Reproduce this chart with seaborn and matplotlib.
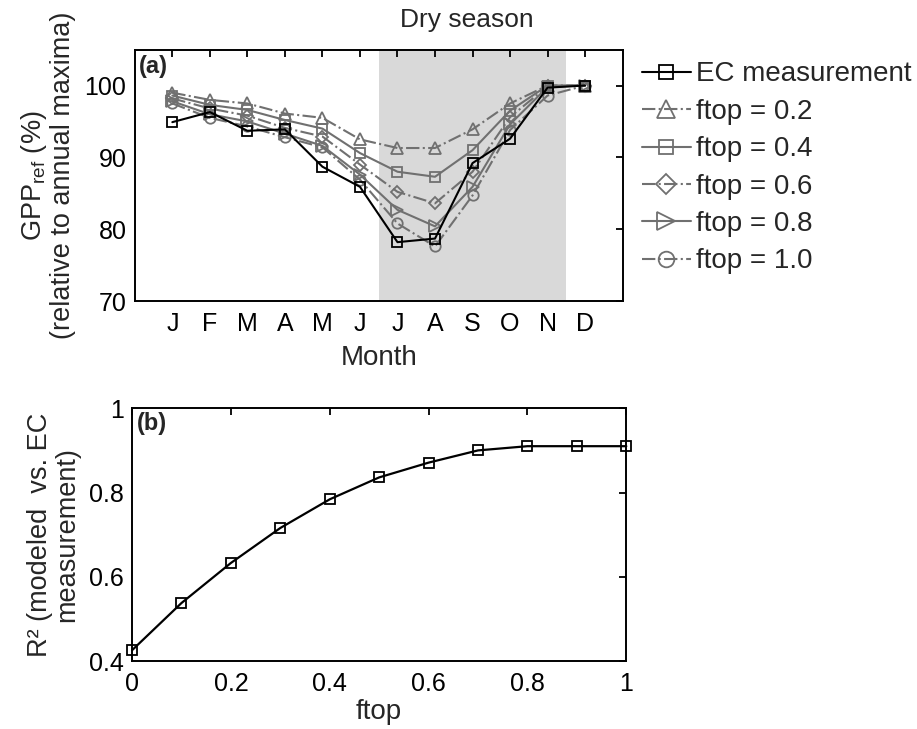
import matplotlib
matplotlib.use("Agg")
import matplotlib.pyplot as plt
import seaborn as sns
import pandas as pd

sns.set_style("white")
plt.rcParams["font.family"] = ["Liberation Sans", "DejaVu Sans"]
plt.rcParams["mathtext.fontset"] = "custom"
plt.rcParams["mathtext.rm"] = "Liberation Sans"

# Panel (a) data: monthly GPP_ref (% of annual maximum)
months = ["J", "F", "M", "A", "M", "J", "J", "A", "S", "O", "N", "D"]
month_num = list(range(1, 13))
ec_measurement = [94.9, 96.3, 93.7, 93.9, 88.7, 85.9, 78.2, 78.7, 89.2, 92.6, 99.7, 100.0]
ftop_02 = [99.0, 98.0, 97.5, 96.1, 95.5, 92.5, 91.3, 91.3, 93.9, 97.5, 100.0, 100.0]
ftop_04 = [98.6, 97.3, 96.6, 95.2, 94.0, 90.6, 88.0, 87.3, 91.0, 96.5, 100.0, 100.0]
ftop_06 = [98.2, 96.8, 95.8, 94.1, 92.9, 89.0, 85.2, 83.6, 88.0, 95.6, 99.9, 100.0]
ftop_08 = [97.8, 96.0, 95.0, 93.3, 91.6, 87.6, 82.7, 80.4, 85.9, 94.6, 99.8, 100.0]
ftop_10 = [97.5, 95.5, 94.3, 92.8, 91.4, 86.9, 80.8, 77.6, 84.7, 93.8, 98.6, 100.0]

# Panel (b) data: R2 vs ftop
ftop_vals = [0.0, 0.1, 0.2, 0.3, 0.4, 0.5, 0.6, 0.7, 0.8, 0.9, 1.0]
r2_vals = [0.426, 0.538, 0.633, 0.716, 0.784, 0.836, 0.871, 0.900, 0.910, 0.910, 0.910]

gray = "#707070"
series = [
    ("EC measurement", ec_measurement, "s", "-", "black"),
    ("ftop = 0.2", ftop_02, "^", "-.", gray),
    ("ftop = 0.4", ftop_04, "s", "-", gray),
    ("ftop = 0.6", ftop_06, "D", "-.", gray),
    ("ftop = 0.8", ftop_08, ">", "-", gray),
    ("ftop = 1.0", ftop_10, "o", "-.", gray),
]

fig = plt.figure(figsize=(9.17, 7.29), dpi=100)
ax1 = fig.add_axes([0.147, 0.587, 0.532, 0.345])
ax2 = fig.add_axes([0.144, 0.093, 0.539, 0.347])

# dry season shading
ax1.axvspan(6.5, 11.5, color="#d9d9d9", zorder=0, lw=0)

# draw model series first, EC on top
for name, vals, mk, ls, col in series[1:] + series[:1]:
    df = pd.DataFrame({"month": month_num, "gpp": vals})
    ms = {"s": 7, "D": 6.5, "o": 7.5}.get(mk, 8.5)
    sns.lineplot(data=df, x="month", y="gpp", ax=ax1, color=col, linestyle=ls,
                 marker=mk, markersize=ms, markerfacecolor="none",
                 markeredgecolor=col, markeredgewidth=1.3, linewidth=1.5,
                 label=name, zorder=3 if col == "black" else 2)

ax1.set_xlim(0, 13)
ax1.set_ylim(70, 105)
ax1.set_xticks(month_num)
ax1.set_xticklabels(months)
ax1.set_yticks([70, 80, 90, 100])
ax1.set_xlabel("Month", fontsize=20, labelpad=6)
ax1.set_ylabel("GPP$_{\\rm ref}$ (%)\n(relative to annual maxima)", fontsize=19.5,
               linespacing=1.05, labelpad=6)
ax1.text(0.12, 104.3, "(a)", fontsize=17, fontweight="bold", va="top")
ax1.text(8.85, 107.4, "Dry season", fontsize=19, ha="center", va="bottom")

handles, labels = ax1.get_legend_handles_labels()
order = [labels.index(s[0]) for s in series]
ax1.legend([handles[i] for i in order], [labels[i] for i in order],
           loc="upper left", bbox_to_anchor=(1.0, 1.03), frameon=False,
           fontsize=20, handlelength=1.75, handletextpad=0.2, labelspacing=0.41,
           borderaxespad=0.3, markerscale=1.5)

# panel (b)
dfb = pd.DataFrame({"ftop": ftop_vals, "r2": r2_vals})
sns.lineplot(data=dfb, x="ftop", y="r2", ax=ax2, color="black", marker="s",
             markersize=7.5, markerfacecolor="none", markeredgecolor="black",
             markeredgewidth=1.3, linewidth=1.6, clip_on=False)
ax2.set_xlim(0, 1)
ax2.set_ylim(0.4, 1)
ax2.set_xticks([0, 0.2, 0.4, 0.6, 0.8, 1])
ax2.set_xticklabels(["0", "0.2", "0.4", "0.6", "0.8", "1"])
ax2.set_yticks([0.4, 0.6, 0.8, 1])
ax2.set_yticklabels(["0.4", "0.6", "0.8", "1"])
ax2.set_xlabel("ftop", fontsize=20, labelpad=2)
ax2.set_ylabel("R\u00b2 (modeled  vs. EC\nmeasurement)", fontsize=19.5,
               linespacing=1.1, labelpad=6)
ax2.text(0.01, 0.99, "(b)", fontsize=17, fontweight="bold", va="top")

for ax in (ax1, ax2):
    for sp in ax.spines.values():
        sp.set_visible(True)
        sp.set_color("black")
        sp.set_linewidth(1.4)
    ax.tick_params(direction="in", length=5, width=1.3, top=True, right=True,
                   labelsize=18, pad=6, colors="black")
    ax.tick_params(axis="x", pad=8)

fig.savefig("out.png", dpi=100)
